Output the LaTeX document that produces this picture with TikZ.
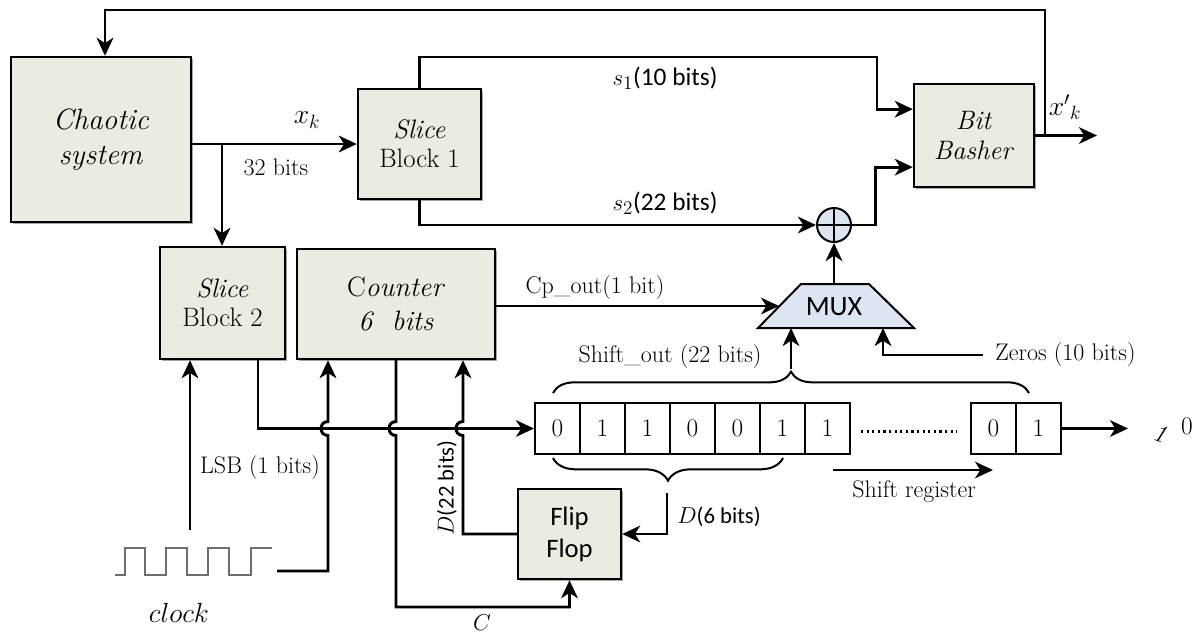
\documentclass[tikz,border=0pt]{standalone}
\usepackage{fontspec}
\newfontfamily\calibri{Carlito}
\usetikzlibrary{arrows.meta,shadows,decorations.pathreplacing,calc}
\definecolor{blockfill}{HTML}{ECEAE1}
\definecolor{logicfill}{HTML}{DCE5F1}
\definecolor{wavegray}{HTML}{6E6E6E}
\tikzset{
  wire/.style={line width=2.2pt},
  arr/.style={wire, -{Stealth[length=13.5pt,width=12.5pt,inset=4pt]}},
  thinarr/.style={line width=1.8pt, -{Stealth[length=13.5pt,width=12.5pt,inset=4pt]}},
  block/.style={draw, line width=1.8pt, fill=blockfill, align=center, inner sep=0pt,
    drop shadow={shadow xshift=1.8pt, shadow yshift=-1.8pt, opacity=0.35, fill=black}},
  cell/.style={draw, line width=1.5pt, minimum width=33.75pt, minimum height=38.25pt,
    inner sep=0pt, font=\fontsize{19}{22}\selectfont},
  lab/.style={inner sep=0pt, font=\fontsize{18}{21}\selectfont},
  mlab/.style={inner sep=0pt, font=\fontsize{20}{23}\selectfont},
  clab/.style={inner sep=0pt, font=\fontsize{17}{20}\selectfont\calibri},
  brace up/.style={decorate, decoration={brace, amplitude=16pt}, line width=1.5pt},
  brace down/.style={decorate, decoration={brace, mirror, amplitude=17pt}, line width=1.5pt},
  wave/.style={draw=wavegray, line width=1pt},
}
\begin{document}
\begin{tikzpicture}[x=0.75pt,y=-0.75pt]
\useasboundingbox (0,0) rectangle (1204,637);

% ---------------- blocks ----------------
\node[block, minimum width=135pt, minimum height=123.75pt, font=\fontsize{22}{26}\selectfont]
  (chaos) at (101,139.5) {\textit{Chaotic}\\\textit{system}};
\node[block, minimum width=92.25pt, minimum height=82.5pt, font=\fontsize{20}{22}\selectfont]
  (sl1) at (419.5,144) {\textit{Slice}\\Block 1};
\node[block, minimum width=90pt, minimum height=77.25pt, font=\fontsize{20}{23}\selectfont]
  (bb) at (974,135.5) {\textit{Bit}\\\textit{Basher}};
\node[block, minimum width=93.75pt, minimum height=84pt, font=\fontsize{20}{22}\selectfont]
  (sl2) at (222.5,303) {\textit{Slice}\\Block 2};
\node[block, minimum width=148.5pt, minimum height=82.5pt, font=\fontsize{21}{26}\selectfont]
  (ctr) at (396,304) {C\textit{ounter}\\\textit{6\ \ bits}};
\node[block, minimum width=77.25pt, minimum height=67.5pt, font=\fontsize{20}{24}\selectfont\calibri]
  (ff) at (569.5,534) {Flip\\Flop};

% ---------------- adder and multiplexer ----------------
\node[circle, draw, line width=1.5pt, fill=logicfill, minimum size=25.5pt, inner sep=0pt]
  (add) at (834,225) {};
\draw[line width=1.8pt] (add.north) -- (add.south) (add.west) -- (add.east);

\draw[line width=1.5pt, fill=logicfill] (758,328) -- (801,284) -- (869,284) -- (914,328) -- cycle;
\node[inner sep=0pt, font=\fontsize{21}{24}\selectfont\calibri] (mux) at (834,307) {MUX};
\coordinate (muxtop) at (834,284);
\coordinate (muxleft) at (779,306);
\coordinate (muxin1) at (791,328);
\coordinate (muxin2) at (883,328);

% ---------------- shift register ----------------
\foreach \i/\v in {1/0,2/1,3/1,4/0,5/0,6/1,7/1}
  \node[cell] (c\i) at ({512.5+45*\i},428.5) {\v};
\node[cell] (c8) at (993.5,428.5) {0};
\node[cell] (c9) at (1038.5,428.5) {1};
\draw[line width=1.8pt, dash pattern=on 1.6pt off 2.6pt] ($(c7.east)+(10,3)$) -- ($(c8.west)+(-13,3)$);

\coordinate (regout) at (1128,428.5);
\draw[arr] (c9.east) -- (regout);
\node[rotate=-18, inner sep=0pt, font=\fontsize{19}{22}\selectfont] (bitone) at (1160,433) {\textit{1}};
\node[inner sep=0pt, font=\fontsize{19}{22}\selectfont] (bitzero) at (1187,426) {0};

% braces over and under the register
\draw[brace up] (553,393) -- (1029,393);
\draw[brace down] (553,458) -- (783,458);
\coordinate (sotip) at (791,369);
\coordinate (d6) at (667,493);

% direction of shifting
\coordinate (shA) at (833,470);
\coordinate (shB) at (993,470);
\draw[thinarr] (shA) -- (shB);
\node[lab] (shlab) at (914,492) {Shift register};

% ---------------- clock ----------------
\draw[wave] (115,575) -- (125,575) -- (125,548) -- (145,548) -- (145,575) -- (166,575)
  -- (166,548) -- (187,548) -- (187,575) -- (208,575) -- (208,548) -- (229,548)
  -- (229,575) -- (251,575) -- (251,548) -- (272,548);
\node[mlab] (clk) at (179,613) {$clock$};
\coordinate (clkout) at (277,571);
\coordinate (lsb) at (190,530);

% ---------------- connectors ----------------
% feedback of the output to the chaotic system
\coordinate (fbx) at (1045,10);
\coordinate (xout) at (1097,10);
\draw[arr] (bb.east) -- (bb.east -| xout);
\draw[arr] (bb.east -| fbx) -- (fbx) -| ($(chaos.north)+(4,0)$);
\node[mlab] at (1065,107) {$x'{}_k$};

% x_k to both slice blocks
\draw[arr] (chaos.east |- sl1.west) -- (sl1.west);
\coordinate (br) at (222,144);
\draw[arr] (br) -- (br |- sl2.north);
\node[mlab] at (307,120) {$x_k$};
\node[lab] at (276,167) {32 bits};

% s1 and s2 into the bit basher
\coordinate (bbin1) at ($(bb.north west)!0.25!(bb.south west)$);
\coordinate (bbin2) at ($(bb.north west)!0.8!(bb.south west)$);
\draw[arr] (sl1.north) |- (877,57) |- (bbin1);
\node[clab] at (665,78) {\fontsize{19}{22}\selectfont$s_1$(10 bits)};
\draw[arr] (sl1.south) |- (add.west);
\node[clab] at (665,203) {\fontsize{19}{22}\selectfont$s_2$(22 bits)};
\draw[arr] (add.east) -| ($(bbin2)+(-37,0)$) -- (bbin2);

% multiplexer
\draw[arr] (muxtop) -- (add.south);
\draw[thinarr] (ctr.east |- muxleft) -- (muxleft);
\node[lab] at (595,288) {Cp\_out(1 bit)};
\draw[thinarr] (sotip) -- (muxin1);
\node[lab] at (670,357) {Shift\_out (22 bits)};
\node[lab, anchor=west, inner sep=3pt] (zeros) at (991,355) {Zeros (10 bits)};
\draw[thinarr] ([xshift=-6pt]zeros.west) -| (muxin2);

% LSB from slice block 2 into the register
\draw[arr] ($(sl2.south)+(35.5,0)$) |- (c1.west);
\draw[arr] (lsb) -- (lsb |- sl2.south);
\node[lab] at (260,468) {LSB (1 bits)};

% clock into the counter, hopping over the LSB wire
\coordinate (ctrclk) at (328,0);
\draw[arr] (clkout) -- (328,571) -- (328,435.5)
  .. controls (318.7,435.5) and (318.7,421.5) .. (328,421.5)
  -- (ctrclk |- ctr.south);

% counter to the flip-flop clock input
\draw[arr] (ctr.south) -- (396,421.5)
  .. controls (386.7,421.5) and (386.7,435.5) .. (396,435.5)
  -- (396,607) -| (ff.south);
\node[inner sep=0pt, font=\fontsize{18}{20}\selectfont] at (482,623) {$C$};

% flip-flop back into the counter
\coordinate (ctrd) at (463,0);
\draw[arr] (ff.west) -| (463,435.5)
  .. controls (453.7,435.5) and (453.7,421.5) .. (463,421.5)
  -- (ctrd |- ctr.south);
\node[clab, rotate=90] at (447,488) {$D$(22 bits)};

% six register bits into the flip-flop
\draw[arr] (d6) |- (ff.east);
\node[clab] at (719,517) {$D$(6 bits)};

\end{tikzpicture}
\end{document}
